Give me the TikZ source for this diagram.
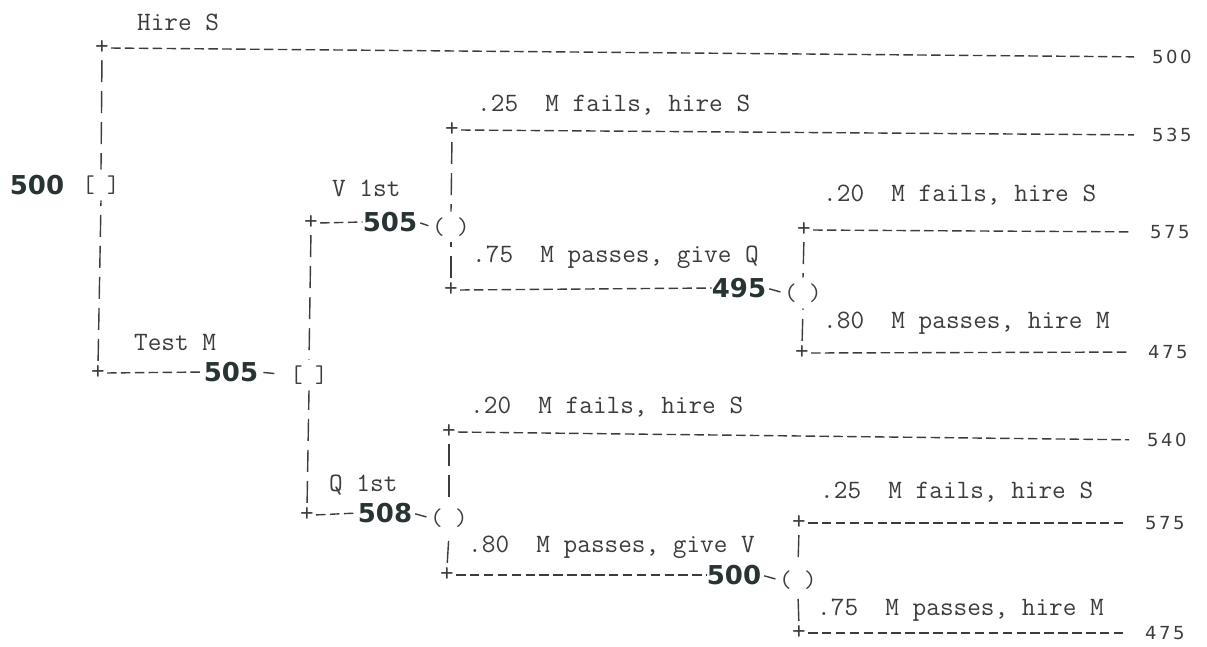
\documentclass[tikz,border=0pt]{standalone}
\usepackage{fontspec}
\newfontfamily\treesans{DejaVu Sans}
\newfontfamily\treeends[LetterSpace=14]{DejaVu Sans}
\definecolor{treeink}{RGB}{60,60,60}
\definecolor{valueink}{RGB}{40,52,52}

\begin{document}
\begin{tikzpicture}[
  x=1pt, y=-1pt,
  branchtext/.style={anchor=west, inner sep=0pt, text=treeink, font=\ttfamily\fontsize{26.5}{30}\selectfont},
  corner/.style={inner sep=0pt, text=treeink, font=\ttfamily\fontsize{26.5}{30}\selectfont},
  choice/.style={inner sep=0pt, outer ysep=6pt, text=treeink, font=\ttfamily\fontsize{24}{28}\selectfont},
  worth/.style={inner sep=0pt, text=valueink, font=\treesans\bfseries\fontsize{26}{30}\selectfont},
  payoff/.style={anchor=west, inner sep=0pt, text=treeink, font=\treeends\fontsize{18}{22}\selectfont},
  hline/.style={draw=treeink, line width=1.4pt, dash pattern=on 9.5pt off 4.4pt, dash phase=11.9pt},
  outcome/.style={hline, shorten >=18pt},
  vline/.style={draw=treeink, line width=1.4pt, dash pattern=on 22pt off 9pt, dash phase=26pt},
  stub/.style={draw=treeink, line width=1.4pt, shorten <=3pt, shorten >=4pt}
]
\useasboundingbox (0,0) rectangle (1207,646);

\node[choice] (root) at (101,185) {[ ]};
\node[worth] (rootval) at (37,185) {500};

\node[corner] (hireS) at (102,48) {+};
\node[branchtext] (hireSlbl) at (137,22) {Hire S};
\node[payoff] (hireSend) at (1152,57) {500};

\node[corner] (testM) at (98,373) {+};
\node[branchtext] (testMlbl) at (134,342) {Test M};
\node[worth] (testMval) at (231,372) {505};
\node[choice] (order) at (309,375) {[ ]};

\node[corner] (vcorner) at (311,223) {+};
\node[branchtext] (vlbl) at (332,188) {V 1st};
\node[worth] (vval) at (390,222) {505};
\node[choice] (vchance) at (451,227) {( )};

\node[corner] (vfail) at (452,130) {+};
\node[branchtext] (vfaillbl) at (477,105) {.25\ \ M fails, hire S};
\node[payoff] (vfailend) at (1152,135) {535};

\node[corner] (vpass) at (451,290) {+};
\node[branchtext] (vpasslbl) at (472,257) {.75\ \ M passes, give Q};
\node[worth] (vpassval) at (739,288) {495};
\node[choice] (vqchance) at (803,293) {( )};

\node[corner] (vqfail) at (804,230) {+};
\node[branchtext] (vqfaillbl) at (823,195) {.20\ \ M fails, hire S};
\node[payoff] (vqfailend) at (1150,232) {575};

\node[corner] (vqpass) at (802,353) {+};
\node[branchtext] (vqpasslbl) at (823,323) {.80\ \ M passes, hire M};
\node[payoff] (vqpassend) at (1148,352) {475};

\node[corner] (qcorner) at (307,515) {+};
\node[branchtext] (qlbl) at (329,485) {Q 1st};
\node[worth] (qval) at (385,513) {508};
\node[choice] (qchance) at (449,518) {( )};

\node[corner] (qfail) at (449,432) {+};
\node[branchtext] (qfaillbl) at (470,407) {.20\ \ M fails, hire S};
\node[payoff] (qfailend) at (1147,440) {540};

\node[corner] (qpass) at (447,575) {+};
\node[branchtext] (qpasslbl) at (468,547) {.80\ \ M passes, give V};
\node[worth] (qpassval) at (734,575) {500};
\node[choice] (qvchance) at (798,580) {( )};

\node[corner] (qvfail) at (799,523) {+};
\node[branchtext] (qvfaillbl) at (820,492) {.25\ \ M fails, hire S};
\node[payoff] (qvfailend) at (1145,523) {575};

\node[corner] (qvpass) at (799,633) {+};
\node[branchtext] (qvpasslbl) at (817,610) {.75\ \ M passes, hire M};
\node[payoff] (qvpassend) at (1145,633) {475};

\draw[vline] (hireS.south) -- (root.north);
\draw[outcome] (hireS.east) -- (hireSend.west);
\draw[vline] (testM.north) -- (root.south);
\draw[hline] (testM.east) -- (testMval.west);
\draw[stub, shorten <=5pt, shorten >=16pt] (testMval.east) -- (order.west);

\draw[vline] (vcorner.south) -- (order.north);
\draw[hline] (vcorner.east) -- (vval.west);
\draw[stub] (vval.east) -- (vchance.west);
\draw[vline] (vfail.south) -- (vchance.north);
\draw[outcome] (vfail.east) -- (vfailend.west);
\draw[vline] (vpass.north) -- (vchance.south);
\draw[hline] (vpass.east) -- (vpassval.west);
\draw[stub] (vpassval.east) -- (vqchance.west);
\draw[vline] (vqfail.south) -- (vqchance.north);
\draw[outcome] (vqfail.east) -- (vqfailend.west);
\draw[vline] (vqpass.north) -- (vqchance.south);
\draw[outcome] (vqpass.east) -- (vqpassend.west);

\draw[vline] (qcorner.north) -- (order.south);
\draw[hline] (qcorner.east) -- (qval.west);
\draw[stub] (qval.east) -- (qchance.west);
\draw[vline] (qfail.south) -- (qchance.north);
\draw[outcome] (qfail.east) -- (qfailend.west);
\draw[vline] (qpass.north) -- (qchance.south);
\draw[hline] (qpass.east) -- (qpassval.west);
\draw[stub] (qpassval.east) -- (qvchance.west);
\draw[vline] (qvfail.south) -- (qvchance.north);
\draw[outcome] (qvfail.east) -- (qvfailend.west);
\draw[vline] (qvpass.north) -- (qvchance.south);
\draw[outcome] (qvpass.east) -- (qvpassend.west);

\end{tikzpicture}
\end{document}
